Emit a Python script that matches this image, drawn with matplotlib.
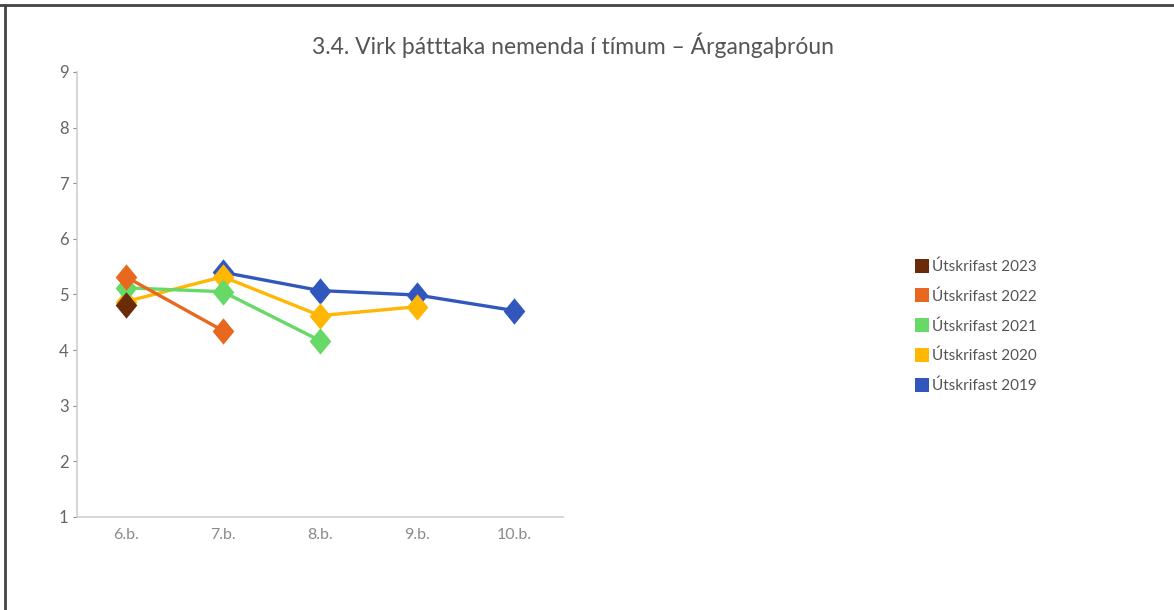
import matplotlib
matplotlib.use('Agg')
import matplotlib.pyplot as plt
from matplotlib.lines import Line2D
import numpy as np

plt.rcParams['font.family'] = ['Lato', 'DejaVu Sans']

bekkir = ['6.b.', '7.b.', '8.b.', '9.b.', '10.b.']
nan = np.nan
utskr_2019 = [nan, 5.40, 5.07, 4.99, 4.71]
utskr_2020 = [4.87, 5.32, 4.62, 4.78, nan]
utskr_2021 = [5.12, 5.05, 4.17, nan, nan]
utskr_2022 = [5.32, 4.35, nan, nan, nan]
utskr_2023 = [4.81, nan, nan, nan, nan]

# drawn oldest first so the newest sits on top
radir = [
    ('Útskrifast 2019', utskr_2019, '#3157bd'),
    ('Útskrifast 2020', utskr_2020, '#ffb703'),
    ('Útskrifast 2021', utskr_2021, '#66d966'),
    ('Útskrifast 2022', utskr_2022, '#e8681f'),
    ('Útskrifast 2023', utskr_2023, '#6b2b08'),
]

tigull = [(0, 1), (0.82, 0), (0, -1), (-0.82, 0), (0, 1)]

fig = plt.figure(figsize=(11.74, 6.1), dpi=100)
ax = fig.add_axes([0.0656, 0.1525, 0.414, 0.7295])
x = np.arange(len(bekkir))

for nafn, gildi, litur in radir:
    y = np.array(gildi)
    ax.plot(x, y, color=litur, lw=2.4, marker=tigull, markersize=19,
            markeredgewidth=0, zorder=3)

ax.set_xlim(-0.5, 4.5)
ax.set_ylim(1, 9)
ax.set_yticks(range(1, 10))
ax.set_xticks(x)
ax.set_xticklabels(bekkir)
for s in ['top', 'right']:
    ax.spines[s].set_visible(False)
for s in ['left', 'bottom']:
    ax.spines[s].set_color('#d0d0d0')
    ax.spines[s].set_linewidth(1.2)
ax.tick_params(axis='y', length=3, color='#888888', labelcolor='#666666',
               labelsize=12, pad=3)
ax.tick_params(axis='x', length=0, labelcolor='#8a8a8a', labelsize=11.5, pad=8)

fig.text(0.488, 0.925, '3.4. Virk þátttaka nemenda í tímum – Árgangaþróun',
         ha='center', va='center', fontsize=16.5, color='#555555')

handles = [Line2D([], [], ls='none', marker='s', markersize=10,
                  color=litur, markeredgewidth=0) for _, _, litur in radir[::-1]]
labels = [nafn for nafn, _, _ in radir[::-1]]
fig.legend(handles, labels, loc='center left', bbox_to_anchor=(0.766, 0.465),
           frameon=False, fontsize=11, labelcolor='#555555',
           handletextpad=0.05, labelspacing=1.0, handlelength=1.2)

# frame lines along the top and left edge
fig.add_artist(Line2D([0, 1], [0.9925, 0.9925], transform=fig.transFigure,
                      color='#444444', lw=2))
fig.add_artist(Line2D([0.0043, 0.0043], [0, 0.9925], transform=fig.transFigure,
                      color='#444444', lw=2))

fig.savefig('out.png', dpi=100, facecolor='white')
